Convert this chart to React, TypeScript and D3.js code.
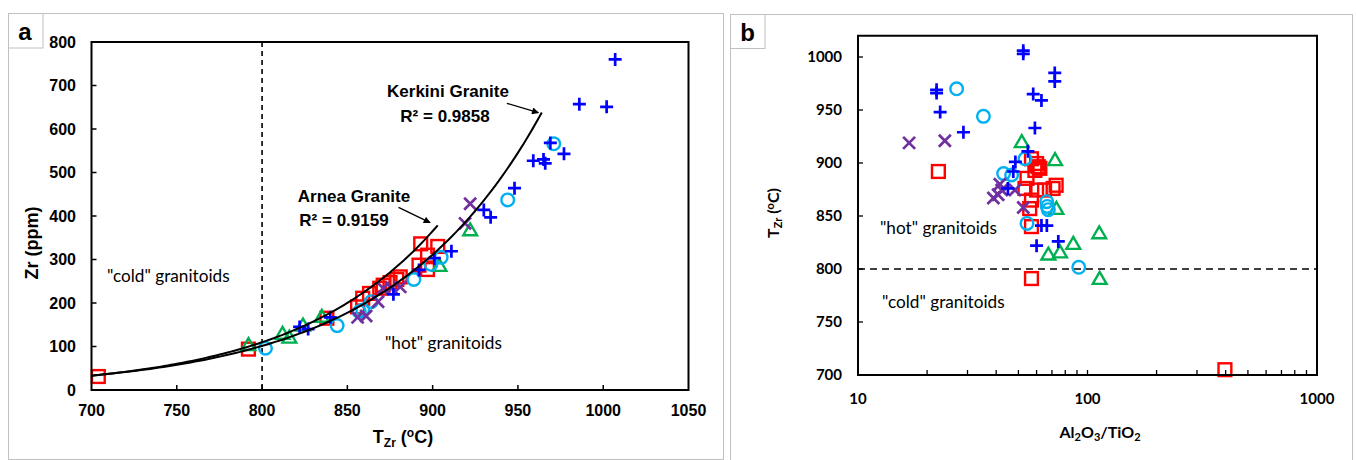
import React from 'react';
import * as d3 from 'd3';

// ---------- ticks ----------
const A_X_TICKS = [700, 750, 800, 850, 900, 950, 1000, 1050];
const A_Y_TICKS = [0, 100, 200, 300, 400, 500, 600, 700, 800];
const B_X_TICKS = [10, 100, 1000];
const B_X_MINOR = [20, 30, 40, 50, 60, 70, 80, 90, 200, 300, 400, 500, 600, 700, 800, 900];
const B_Y_TICKS = [700, 750, 800, 850, 900, 950, 1000];

// ---------- panel a data: [T_Zr (°C), Zr (ppm)] ----------
const A_RED = [[704, 31], [792, 94], [838, 165], [856, 191], [859, 211], [863, 222], [869, 234], [871, 241], [875, 247], [879, 254], [881, 260], [892, 287], [893, 336], [897, 277], [897, 310], [903, 330]];
const A_GREEN = [[792, 104], [812, 130], [816, 121], [824, 149], [835, 169], [904, 286], [922, 368]];
const A_CYAN = [[802, 96], [844, 148], [857, 180], [859, 184], [864, 203], [889, 254], [899, 289], [905, 305], [944, 437], [971, 566]];
const A_PURPLE = [[856, 167], [861, 170], [868, 203], [871, 234], [876, 234], [881, 237], [919, 383], [922, 428]];
const A_BLUE = [[822, 145], [827, 140], [840, 167], [877, 220], [892, 276], [901, 303], [911, 319], [930, 414], [934, 397], [948, 464], [959, 527], [965, 530], [966, 521], [969, 568], [977, 543], [986, 657], [1002, 651], [1007, 760]];

// exponential trendlines: [Zr at Tstart, growth rate, Tstart, Tend]
const ARNEA_FIT = [33, 0.01202, 700, 903];
const KERKINI_FIT = [33, 0.01122, 700, 964];

// ---------- panel b data: [Al2O3/TiO2, T_Zr (°C)] ----------
const B_RED = [[22.4, 892], [57, 904], [61, 896.5], [59, 893], [60, 899.5], [62, 895], [54.5, 885.5], [53.4, 876], [60, 874.5], [57, 865], [56, 857], [57, 840], [65, 874.5], [73, 879], [70.8, 876], [57, 791], [397, 705]];
const B_GREEN = [[51.7, 920], [72.2, 903], [73.2, 857], [67.5, 814], [75.9, 816], [86.7, 824], [112.5, 834], [113, 791]];
const B_CYAN = [[26.9, 970], [35.2, 944], [53.4, 904], [43.1, 890], [46.7, 888.7], [66.4, 863.5], [66.8, 859], [67.5, 856], [54.5, 843], [91.6, 801.6]];
const B_PURPLE = [[16.7, 919], [23.9, 921], [38.9, 867], [40.8, 870], [42.3, 874.5], [41.5, 880], [48.3, 874.5], [52.5, 858]];
const B_BLUE = [[52.5, 1006], [52.5, 1003], [72, 985], [72, 977], [22, 969], [22, 966], [22.8, 948], [28.8, 929], [58, 965], [63, 959], [59, 933], [55, 911], [48.5, 901], [47.5, 892], [45, 876], [63, 841], [66.5, 841], [60, 822], [74.6, 826]];

const RED = '#ff0000';
const GREEN = '#00b050';
const CYAN = '#00b0f0';
const PURPLE = '#7030a0';
const BLUE = '#0000ff';

const ARIAL = '"Liberation Sans", Arial, sans-serif';
const CAL = 'Lato, "Open Sans", sans-serif';

type Shape = 'square' | 'triangle' | 'circle' | 'x' | 'plus';

function Marker({ shape, x, y, color }: { shape: Shape; x: number; y: number; color: string }) {
  const sw = 2.4;
  if (shape === 'square') return <rect x={x - 6.4} y={y - 6.4} width={12.8} height={12.8} fill="none" stroke={color} strokeWidth={sw} />;
  if (shape === 'circle') return <circle cx={x} cy={y} r={6.3} fill="none" stroke={color} strokeWidth={sw} />;
  if (shape === 'triangle') return <path d={`M${x},${y - 6.6}L${x + 6.9},${y + 5.3}L${x - 6.9},${y + 5.3}Z`} fill="none" stroke={color} strokeWidth={sw} strokeLinejoin="miter" />;
  if (shape === 'x') return <path d={`M${x - 6},${y - 6}L${x + 6},${y + 6}M${x - 6},${y + 6}L${x + 6},${y - 6}`} stroke={color} strokeWidth={2.7} />;
  return <path d={`M${x - 6.5},${y}L${x + 6.5},${y}M${x},${y - 6.5}L${x},${y + 6.5}`} stroke={color} strokeWidth={2.7} />;
}

function fitPath(fit: number[], sx: any, sy: any) {
  const [a0, b, t0, t1] = fit;
  const pts = d3.range(t0, t1 + 0.001, (t1 - t0) / 100).map((t) => [t, a0 * Math.exp(b * (t - t0))]);
  return d3.line().x((d: any) => sx(d[0])).y((d: any) => sy(d[1])).curve(d3.curveLinear)(pts as any) || '';
}

export default function App() {
  // panel a scales
  const ax = d3.scaleLinear().domain([700, 1050]).range([91.5, 688.5]);
  const ay = d3.scaleLinear().domain([0, 800]).range([390, 42]);
  // panel b scales
  const bx = d3.scaleLog().domain([10, 1000]).range([858, 1317]);
  const by = d3.scaleLinear().domain([700, 1020]).range([375, 35.8]);

  const aSeries: [number[][], Shape, string][] = [
    [A_RED, 'square', RED],
    [A_GREEN, 'triangle', GREEN],
    [A_CYAN, 'circle', CYAN],
    [A_PURPLE, 'x', PURPLE],
    [A_BLUE, 'plus', BLUE],
  ];
  const bSeries: [number[][], Shape, string][] = [
    [B_RED, 'square', RED],
    [B_GREEN, 'triangle', GREEN],
    [B_CYAN, 'circle', CYAN],
    [B_PURPLE, 'x', PURPLE],
    [B_BLUE, 'plus', BLUE],
  ];

  const [aL, aR] = ax.range();
  const [aB, aT] = ay.range();
  const [bL, bR] = bx.range();
  const [bB, bT] = by.range();

  return (
    <div style={{ position: 'fixed', left: 0, top: 0 }}>
      <svg width={1356} height={460} style={{ display: 'block', background: '#fff' }}>
        <defs>
          <marker id="arr" viewBox="0 0 10 10" refX="9" refY="5" markerWidth="9" markerHeight="7" orient="auto" markerUnits="userSpaceOnUse">
            <path d="M0,0L10,5L0,10Z" fill="#000" />
          </marker>
        </defs>
        {/* panel frames */}
        <rect x={8.5} y={13.5} width={715} height={446} fill="none" stroke="#c0c0c0" strokeWidth={1} />
        <rect x={8.5} y={13.5} width={34.5} height={34.5} fill="#fff" stroke="#c0c0c0" strokeWidth={1} />
        <text x={25} y={40} textAnchor="middle" fontFamily={ARIAL} fontWeight="bold" fontSize={24}>a</text>
        <rect x={730.5} y={14.5} width={622} height={446} fill="none" stroke="#c0c0c0" strokeWidth={1} />
        <rect x={730.5} y={14.5} width={34.5} height={34} fill="#fff" stroke="#c0c0c0" strokeWidth={1} />
        <text x={747.5} y={41} textAnchor="middle" fontFamily={ARIAL} fontWeight="bold" fontSize={24}>b</text>

        {/* ================= panel a ================= */}
        <g>
          <line x1={ax(800)} x2={ax(800)} y1={aT} y2={aB} stroke="#000" strokeWidth={1.6} strokeDasharray="5,4" />
          {A_X_TICKS.slice(1, -1).map((t) => (
            <line key={'axt' + t} x1={ax(t)} x2={ax(t)} y1={aB} y2={aB - 5} stroke="#000" strokeWidth={1.5} />
          ))}
          {A_Y_TICKS.slice(1, -1).map((t) => (
            <line key={'ayt' + t} x1={aL} x2={aL + 5} y1={ay(t)} y2={ay(t)} stroke="#000" strokeWidth={1.5} />
          ))}
          {A_X_TICKS.map((t) => (
            <text key={'axl' + t} x={ax(t)} y={416} textAnchor="middle" fontFamily={ARIAL} fontWeight="bold" fontSize={16}>{t}</text>
          ))}
          {A_Y_TICKS.map((t) => (
            <text key={'ayl' + t} x={76} y={ay(t) + 5.8} textAnchor="end" fontFamily={ARIAL} fontWeight="bold" fontSize={16}>{t}</text>
          ))}
          <text transform="translate(38,243) rotate(-90)" textAnchor="middle" fontFamily={ARIAL} fontWeight="bold" fontSize={18}>Zr (ppm)</text>
          <text x={403} y={443} textAnchor="middle" fontFamily={ARIAL} fontWeight="bold" fontSize={18}>
            T<tspan fontSize={12} dy={4}>Zr</tspan><tspan dy={-4}> (</tspan><tspan fontSize={12} dy={-6}>o</tspan><tspan dy={6}>C)</tspan>
          </text>
          {aSeries.map(([data, shape, color], si) =>
            data.map((d, i) => <Marker key={`a${si}-${i}`} shape={shape} x={ax(d[0])} y={ay(d[1])} color={color} />)
          )}
          <path d={fitPath(ARNEA_FIT, ax, ay)} fill="none" stroke="#000" strokeWidth={2} />
          <path d={fitPath(KERKINI_FIT, ax, ay)} fill="none" stroke="#000" strokeWidth={2} />
          <line x1={ax(943.5)} y1={ay(659)} x2={ax(962)} y2={ay(637.5)} stroke="#000" strokeWidth={1.3} markerEnd="url(#arr)" />
          <line x1={ax(880)} y1={ay(420)} x2={ax(898.5)} y2={ay(384.6)} stroke="#000" strokeWidth={1.3} markerEnd="url(#arr)" />
          <text x={448} y={97} textAnchor="middle" fontFamily={ARIAL} fontWeight="bold" fontSize={17}>Kerkini Granite</text>
          <text x={445} y={122} textAnchor="middle" fontFamily={ARIAL} fontWeight="bold" fontSize={17}>R² = 0.9858</text>
          <text x={354} y={202} textAnchor="middle" fontFamily={ARIAL} fontWeight="bold" fontSize={17}>Arnea Granite</text>
          <text x={344} y={226} textAnchor="middle" fontFamily={ARIAL} fontWeight="bold" fontSize={17}>R² = 0.9159</text>
          <text x={107} y={282} fontFamily={CAL} fontSize={17.2}>"cold" granitoids</text>
          <text x={385} y={349} fontFamily={CAL} fontSize={17.2}>"hot" granitoids</text>
          <path d={`M${aL},${aT}V${aB}H${aR}V${aT}Z`} fill="none" stroke="#000" strokeWidth={2} />
        </g>

        {/* ================= panel b ================= */}
        <g>
          <line x1={bL} x2={bR} y1={by(800)} y2={by(800)} stroke="#000" strokeWidth={1.6} strokeDasharray="7,5" />
          {B_X_MINOR.concat([100]).map((t) => (
            <line key={'bxt' + t} x1={bx(t)} x2={bx(t)} y1={bB} y2={bB - 5} stroke="#000" strokeWidth={1.3} />
          ))}
          {B_Y_TICKS.slice(1).map((t) => (
            <line key={'byt' + t} x1={bL} x2={bL + 5} y1={by(t)} y2={by(t)} stroke="#000" strokeWidth={1.3} />
          ))}
          {B_X_TICKS.map((t) => (
            <text key={'bxl' + t} x={bx(t)} y={404} textAnchor="middle" fontFamily={CAL} fontWeight="bold" fontSize={15}>{t}</text>
          ))}
          {B_Y_TICKS.map((t) => (
            <text key={'byl' + t} x={842} y={by(t) + 5} textAnchor="end" fontFamily={CAL} fontWeight="bold" fontSize={15}>{t}</text>
          ))}
          <text transform="translate(779,213) rotate(-90)" textAnchor="middle" fontFamily={CAL} fontWeight="bold" fontSize={16}>
            T<tspan fontSize={11} dy={3}>Zr</tspan><tspan dy={-3}> (</tspan><tspan fontSize={11} dy={-5}>o</tspan><tspan dy={5}>C)</tspan>
          </text>
          <text x={1100} y={438} textAnchor="middle" fontFamily={CAL} fontWeight="bold" fontSize={16}>
            Al<tspan fontSize={11} dy={3}>2</tspan><tspan dy={-3}>O</tspan><tspan fontSize={11} dy={3}>3</tspan><tspan dy={-3}>/TiO</tspan><tspan fontSize={11} dy={3}>2</tspan>
          </text>
          <text x={880} y={234} fontFamily={CAL} fontSize={17.2}>"hot" granitoids</text>
          <text x={882} y={308} fontFamily={CAL} fontSize={17.2}>"cold" granitoids</text>
          {bSeries.map(([data, shape, color], si) =>
            data.map((d, i) => <Marker key={`b${si}-${i}`} shape={shape} x={bx(d[0])} y={by(d[1])} color={color} />)
          )}
          <path d={`M${bL},${bT}V${bB}H${bR}V${bT}Z`} fill="none" stroke="#000" strokeWidth={2} />
        </g>
      </svg>
    </div>
  );
}
